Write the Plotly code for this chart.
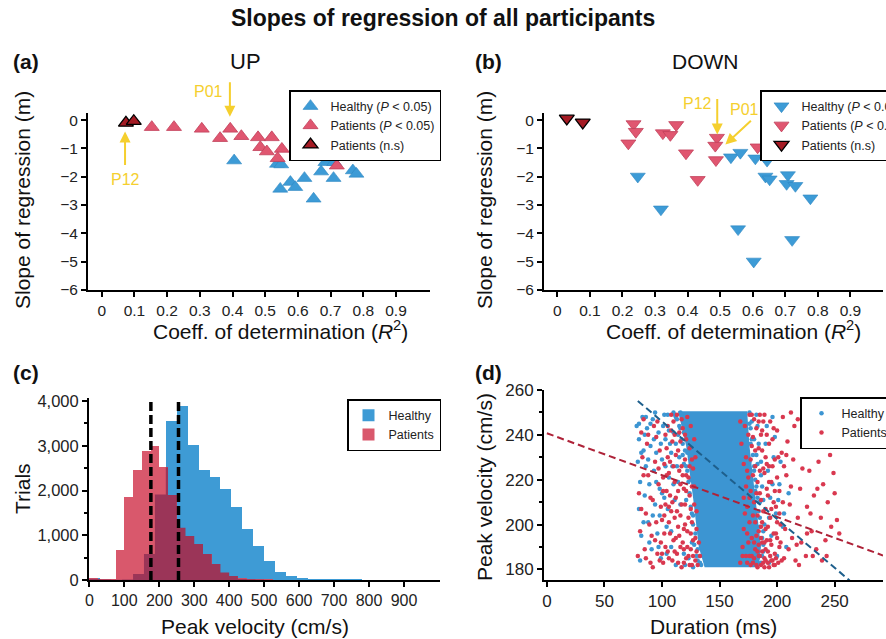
import numpy as np
import plotly.graph_objects as go

FONT = "Arial, Liberation Sans, Helvetica, sans-serif"
BLUE = "#3D9BD6"
PINK = "#E05670"
PINK_EDGE = "#C2405A"
DARKRED = "#A51B24"
HIST_BLUE = "#3E9BD5"
HIST_RED = "#D9586C"
OVERLAP = "#9B3558"
SC_BLUE = "#3C95D2"
SC_RED = "#D9384F"
YELLOW = "#F5CF2E"

# ---------------- (a) UP : R^2 vs slope ----------------
up_healthy_r2 = [0.405, 0.536, 0.549, 0.546, 0.577, 0.592, 0.620, 0.648, 0.671, 0.684, 0.711, 0.709, 0.768, 0.779]
up_healthy_slope = [-1.43, -1.55, -1.57, -2.43, -2.19, -2.37, -2.05, -2.78, -1.82, -1.49, -1.49, -2.05, -1.78, -1.90]
up_patients_r2 = [0.153, 0.221, 0.306, 0.393, 0.362, 0.427, 0.478, 0.520, 0.485, 0.505, 0.551, 0.538, 0.719]
up_patients_slope = [-0.25, -0.25, -0.31, -0.31, -0.64, -0.57, -0.61, -0.61, -0.96, -1.11, -1.02, -1.35, -1.61]
up_ns_r2 = [0.074, 0.098]
up_ns_slope = [-0.10, -0.04]

# ---------------- (b) DOWN ----------------
down_healthy_r2 = [0.247, 0.318, 0.533, 0.562, 0.608, 0.644, 0.639, 0.652, 0.708, 0.704, 0.731, 0.777, 0.555, 0.721, 0.603]
down_healthy_slope = [-1.99, -3.15, -1.31, -1.15, -1.35, -1.43, -1.99, -2.09, -1.94, -2.25, -2.32, -2.76, -3.85, -4.23, -4.99]
down_patients_r2 = [0.234, 0.241, 0.218, 0.324, 0.347, 0.365, 0.395, 0.431, 0.490, 0.485, 0.487, 0.615]
down_patients_slope = [-0.14, -0.41, -0.82, -0.46, -0.52, -0.17, -1.17, -2.11, -0.62, -0.90, -1.41, -0.96]
down_ns_r2 = [0.029, 0.078]
down_ns_slope = [0.06, -0.08]

# ---------------- (c) histogram of peak velocity ----------------
healthy_bin_width = 31.25
healthy_counts = [30, 10, 5, 10, 135, 580, 1910, 3545, 3890, 3030, 2470, 2300, 2040, 1630, 1140, 770,
                  420, 170, 80, 40, 20, 10, 5, 5, 3, 0, 0, 0, 0, 0, 0, 0]
patients_bin_width = 25
patients_counts = [40, 20, 20, 680, 1850, 2470, 2880, 3005, 2520, 1900, 1170, 985, 805, 580, 360, 165,
                   90, 30, 15, 10, 5, 0, 0, 0, 0, 0, 0, 0, 0, 0, 0, 0, 0, 0, 0, 0, 0, 0, 0, 0]
healthy_mean_velocity = 255
patients_mean_velocity = 176
velocity_ticks = [0, 100, 200, 300, 400, 500, 600, 700, 800, 900]

# ---------------- (d) duration vs peak velocity ----------------
healthy_core_duration = [114, 174, 176, 181, 186, 184, 137, 132, 127, 121, 114]
healthy_core_velocity = [250.5, 250.5, 235, 212, 190, 181, 181, 190, 212, 235, 250.5]
healthy_trials = [
    (78, 244), (80, 238), (79, 228), (81, 219), (80, 207), (82, 195), (81, 184), (83, 248), (84, 233), (85, 213),
    (86, 226), (87, 243), (88, 201), (89, 218), (90, 235), (91, 189), (92, 247), (93, 224), (94, 209), (95, 232),
    (96, 196), (97, 241), (98, 216), (99, 185), (100, 229), (101, 244), (102, 212), (103, 238), (104, 199), (105, 249),
    (106, 221), (107, 236), (108, 190), (109, 226), (110, 241), (111, 211), (112, 236), (113, 247), (114, 219), (115, 230),
    (104, 187), (98, 204), (89, 192), (85, 240), (94, 250), (108, 197), (112, 182), (116, 243), (118, 236), (120, 246),
    (120, 182), (123, 185), (127, 181), (131, 184),
    (80, 245), (82, 232), (84, 201), (86, 248), (88, 229), (90, 245), (92, 204), (93, 238), (95, 219), (97, 190),
    (99, 236), (100, 214), (102, 249), (103, 226), (105, 207), (106, 242), (108, 232), (110, 218), (111, 249), (113, 226),
    (114, 240), (116, 209), (117, 249), (119, 227), (121, 211), (122, 232), (124, 245), (125, 220), (127, 204), (128, 236),
    (119, 187), (126, 192), (130, 186), (133, 183),
    (112, 248), (115, 244), (117, 238), (118, 231), (119, 241), (121, 226), (123, 219), (124, 214), (125, 208), (127, 200),
    (129, 196), (128, 191), (131, 189), (133, 186), (134, 182), (110, 250), (116, 250), (120, 233), (122, 224), (126, 205),
    (178, 246), (180, 238), (182, 231), (181, 220), (184, 210), (186, 228), (187, 217), (189, 200), (190, 236), (192, 224),
    (194, 212), (195, 195), (197, 230), (199, 205), (200, 186), (202, 218), (205, 199), (208, 190), (179, 212), (183, 244),
    (185, 203), (188, 188), (193, 183), (196, 248), (176, 228), (177, 200),
    (175, 222), (176, 245), (178, 205), (180, 226), (182, 249), (184, 236), (186, 222), (188, 211), (191, 244), (193, 203),
    (196, 218), (198, 239), (201, 211), (203, 228), (206, 205), (210, 214), (177, 190), (180, 194), (183, 185),
    (176, 250), (177, 243), (178, 238), (179, 231), (180, 224), (182, 217), (183, 212), (184, 206), (185, 199), (187, 194),
    (188, 191), (187, 186), (186, 183), (177, 236), (181, 215), (183, 227), (185, 210), (188, 197),
]
patients_trials = [
    (79, 186), (81, 197), (80, 214), (83, 230), (82, 241), (85, 189), (86, 205), (88, 222), (87, 236), (90, 183),
    (91, 195), (92, 211), (93, 244), (94, 228), (95, 201), (96, 187), (97, 218), (98, 233), (99, 208), (99, 192),
    (84, 247), (89, 200), (95, 239), (92, 181), (97, 225),
    (82, 207), (84, 222), (86, 185), (88, 240), (90, 212), (94, 193), (96, 246), (98, 184),
    (101, 183), (102, 196), (103, 209), (101, 221), (104, 234), (105, 188), (106, 201), (104, 215), (107, 228), (108, 242),
    (109, 184), (110, 193), (108, 206), (111, 219), (112, 231), (110, 246), (113, 187), (114, 199), (112, 212), (115, 224),
    (116, 237), (117, 181), (118, 192), (116, 204), (119, 216), (120, 229), (118, 243), (121, 185), (122, 197), (120, 209),
    (123, 221), (124, 234), (122, 248), (125, 189), (126, 201), (124, 213), (127, 225), (128, 238), (126, 182), (129, 194),
    (130, 206), (128, 217), (103, 190), (106, 223), (109, 237), (111, 203), (114, 183), (117, 226), (119, 198), (121, 238),
    (123, 186), (125, 207), (127, 193), (129, 184), (107, 213), (113, 249), (115, 241), (102, 227), (105, 244), (119, 189),
    (124, 182), (130, 188), (126, 229), (100, 202), (112, 194), (116, 218),
    (100, 187), (102, 204), (104, 222), (106, 185), (107, 196), (109, 210), (110, 226), (111, 188), (113, 206), (114, 215),
    (115, 195), (117, 209), (118, 222), (119, 183), (120, 200), (121, 215), (122, 190), (123, 203), (124, 226), (125, 196),
    (126, 217), (127, 186), (128, 209), (129, 230), (130, 198), (131, 182), (132, 192), (133, 186), (105, 230), (108, 249),
    (111, 240), (114, 233), (117, 247), (120, 240), (103, 240), (101, 215), (106, 208), (116, 190), (121, 222), (125, 244),
    (168, 183), (170, 190), (171, 198), (169, 236), (172, 244), (173, 186), (174, 208), (175, 221), (176, 249), (177, 182),
    (178, 194), (177, 229), (179, 239), (180, 185), (181, 201), (182, 214), (180, 247), (183, 188), (184, 197), (185, 224),
    (184, 234), (186, 182), (187, 192), (188, 206), (187, 242), (189, 185), (190, 198), (191, 216), (190, 230), (192, 188),
    (193, 181), (194, 203), (193, 226), (195, 191), (196, 184), (197, 210), (196, 238), (198, 187), (199, 196), (200, 221),
    (201, 183), (202, 205), (203, 192), (204, 232), (178, 249), (182, 243), (185, 249), (188, 246), (191, 240), (174, 196),
    (176, 212), (179, 204), (183, 219), (186, 211), (189, 223), (192, 213), (195, 219), (198, 229), (171, 227), (173, 217),
    (181, 226), (187, 233), (194, 246), (199, 208), (202, 215), (185, 186), (188, 183), (191, 193), (194, 186), (197, 182),
    (183, 181), (180, 192), (186, 199), (176, 186), (190, 207), (200, 242), (175, 240), (168, 246), (203, 200),
    (172, 205), (173, 230), (175, 192), (176, 201), (177, 215), (178, 186), (179, 222), (180, 210), (181, 233), (182, 195),
    (183, 204), (184, 186), (185, 214), (186, 240), (187, 201), (188, 225), (189, 192), (190, 184), (191, 227), (192, 199),
    (193, 219), (194, 193), (195, 207), (196, 226), (197, 196), (198, 215), (199, 185), (200, 201), (201, 230), (202, 190),
    (204, 184), (205, 210), (206, 226), (182, 182), (184, 191), (187, 188), (190, 189), (192, 183), (195, 184), (198, 182),
    (200, 194), (179, 183), (181, 189), (186, 194), (189, 181), (174, 183), (170, 186), (178, 235), (184, 246), (189, 249),
    (193, 236), (197, 243), (171, 212), (174, 224),
    (206, 185), (207, 198), (208, 222), (209, 237), (210, 189), (211, 209), (213, 194), (214, 229), (215, 244), (216, 184),
    (218, 203), (220, 216), (221, 192), (223, 235), (225, 186), (226, 208), (228, 224), (230, 197), (232, 213), (234, 189),
    (236, 228), (238, 203), (240, 218), (242, 193), (244, 210), (247, 199), (250, 214), (252, 202), (218, 247), (212, 250),
    (227, 241), (231, 186), (246, 231), (205, 248), (239, 184),
    (208, 231), (212, 217), (217, 191), (222, 225), (229, 205), (235, 216), (243, 186), (249, 223), (254, 196), (233, 241),
    (226, 196), (219, 182),
]
healthy_fit = {"intercept": 289.5, "slope": -0.435, "from": 79, "to": 263}
patients_fit = {"intercept": 240.7, "slope": -0.1865, "from": 0, "to": 292}

# ================= figure =================
fig = go.Figure()

tri_common = dict(mode="markers", hoverinfo="skip")
# (a)
fig.add_trace(go.Scatter(x=up_healthy_r2, y=up_healthy_slope, name="Healthy (<i>P</i> &lt; 0.05)",
                         marker=dict(symbol="triangle-up", size=13, color=BLUE, line=dict(width=0.6, color="#2E86C1")),
                         xaxis="x", yaxis="y", legend="legend", **tri_common))
fig.add_trace(go.Scatter(x=up_patients_r2, y=up_patients_slope, name="Patients (<i>P</i> &lt; 0.05)",
                         marker=dict(symbol="triangle-up", size=13, color=PINK, line=dict(width=0.8, color=PINK_EDGE)),
                         xaxis="x", yaxis="y", legend="legend", **tri_common))
fig.add_trace(go.Scatter(x=up_ns_r2, y=up_ns_slope, name="Patients (n.s)",
                         marker=dict(symbol="triangle-up", size=13, color=DARKRED, line=dict(width=1.3, color="black")),
                         xaxis="x", yaxis="y", legend="legend", **tri_common))
# (b)
fig.add_trace(go.Scatter(x=down_healthy_r2, y=down_healthy_slope, name="Healthy (<i>P</i> &lt; 0.05)",
                         marker=dict(symbol="triangle-down", size=13, color=BLUE, line=dict(width=0.6, color="#2E86C1")),
                         xaxis="x2", yaxis="y2", legend="legend2", **tri_common))
fig.add_trace(go.Scatter(x=down_patients_r2, y=down_patients_slope, name="Patients (<i>P</i> &lt; 0.05)",
                         marker=dict(symbol="triangle-down", size=13, color=PINK, line=dict(width=0.8, color=PINK_EDGE)),
                         xaxis="x2", yaxis="y2", legend="legend2", **tri_common))
fig.add_trace(go.Scatter(x=down_ns_r2, y=down_ns_slope, name="Patients (n.s)",
                         marker=dict(symbol="triangle-down", size=13, color=DARKRED, line=dict(width=1.3, color="black")),
                         xaxis="x2", yaxis="y2", legend="legend2", **tri_common))

# (c) histograms
h_edges = np.arange(len(healthy_counts) + 1) * healthy_bin_width
p_edges = np.arange(len(patients_counts) + 1) * patients_bin_width
h_centers = (h_edges[:-1] + h_edges[1:]) / 2
p_centers = (p_edges[:-1] + p_edges[1:]) / 2
fig.add_trace(go.Bar(x=h_centers, y=healthy_counts, width=healthy_bin_width, name="Healthy",
                     marker=dict(color=HIST_BLUE, line=dict(width=0)), xaxis="x3", yaxis="y3",
                     legend="legend3", hoverinfo="skip"))
fig.add_trace(go.Bar(x=p_centers, y=patients_counts, width=patients_bin_width, name="Patients",
                     marker=dict(color=HIST_RED, line=dict(width=0)), xaxis="x3", yaxis="y3",
                     legend="legend3", hoverinfo="skip"))
fine = 6.25
f_edges = np.arange(0, 1000 + fine, fine)
f_cent = (f_edges[:-1] + f_edges[1:]) / 2
h_at = np.array(healthy_counts)[np.minimum((f_cent // healthy_bin_width).astype(int), len(healthy_counts) - 1)]
p_at = np.array(patients_counts)[np.minimum((f_cent // patients_bin_width).astype(int), len(patients_counts) - 1)]
overlap = np.minimum(h_at, p_at)
fig.add_trace(go.Scatter(x=f_edges, y=np.append(overlap, overlap[-1]), mode="lines", line=dict(shape="hv", width=0, color=OVERLAP),
                         fill="tozeroy", fillcolor=OVERLAP, showlegend=False, xaxis="x3", yaxis="y3", hoverinfo="skip"))
for v in (patients_mean_velocity, healthy_mean_velocity):
    fig.add_trace(go.Scatter(x=[v, v], y=[0, 4070], mode="lines", line=dict(color="black", width=3.5, dash="9px,4px"),
                             showlegend=False, xaxis="x3", yaxis="y3", hoverinfo="skip"))

# (d) scatter
fig.add_trace(go.Scatter(x=healthy_core_duration, y=healthy_core_velocity, mode="lines", fill="toself",
                         fillcolor=SC_BLUE, line=dict(width=0, color=SC_BLUE), showlegend=False,
                         xaxis="x4", yaxis="y4", hoverinfo="skip"))
fig.add_trace(go.Scatter(x=[p[0] for p in healthy_trials], y=[p[1] for p in healthy_trials], mode="markers",
                         name="Healthy", marker=dict(size=4.5, color=SC_BLUE), xaxis="x4", yaxis="y4",
                         legend="legend4", hoverinfo="skip"))
fig.add_trace(go.Scatter(x=[p[0] for p in patients_trials], y=[p[1] for p in patients_trials], mode="markers",
                         name="Patients", marker=dict(size=4.5, color=SC_RED), xaxis="x4", yaxis="y4",
                         legend="legend4", hoverinfo="skip"))
for fit, col in ((patients_fit, "#AE2238"), (healthy_fit, "#1E5F8C")):
    xs = np.array([fit["from"], fit["to"]], dtype=float)
    fig.add_trace(go.Scatter(x=xs, y=fit["intercept"] + fit["slope"] * xs, mode="lines",
                             line=dict(color=col, width=2, dash="7px,4px"), showlegend=False,
                             xaxis="x4", yaxis="y4", hoverinfo="skip"))

W, H = 886, 639
def px_x(v): return v / W
def px_y(v): return 1 - v / H

def tf(size):
    return dict(size=size, color="#222", family=FONT)

axis_base = dict(showline=True, linecolor="black", linewidth=2, ticks="outside", ticklen=5, tickwidth=1.8,
                 tickcolor="black", showgrid=False, zeroline=False, tickfont=tf(15.5))

r2_ticks = [i / 10 for i in range(10)]
r2_text = ["0"] + [f"{t:.1f}" for t in r2_ticks[1:]]
fig.update_layout(
    xaxis=dict(axis_base, domain=[px_x(88), px_x(430)], anchor="y", range=[-0.042, 1.004],
               tickmode="array", tickvals=r2_ticks, ticktext=r2_text),
    yaxis=dict(axis_base, domain=[px_y(290), px_y(113)], anchor="x", range=[-6, 0.25], dtick=1, tick0=0),
    xaxis2=dict(axis_base, domain=[px_x(544), px_x(883)], anchor="y2", range=[-0.041, 1.0],
                tickmode="array", tickvals=r2_ticks, ticktext=r2_text),
    yaxis2=dict(axis_base, domain=[px_y(290), px_y(113)], anchor="x2", range=[-6, 0.25], dtick=1, tick0=0),
    xaxis3=dict(axis_base, domain=[px_x(89), px_x(440)], anchor="y3", range=[-1, 1003],
                tickmode="array", tickvals=velocity_ticks, tickfont=tf(16)),
    yaxis3=dict(axis_base, domain=[px_y(580), px_y(398)], anchor="x3", range=[0, 4070], dtick=1000, tick0=0,
                tickformat=",", tickfont=tf(16.5),
                minor=dict(ticks="outside", ticklen=3, tickwidth=1.5, tickcolor="black", dtick=500, showgrid=False)),
    xaxis4=dict(axis_base, domain=[px_x(544), px_x(883)], anchor="y4", range=[-2.5, 292], dtick=50, tick0=0,
                tickfont=tf(17)),
    yaxis4=dict(axis_base, domain=[px_y(580), px_y(390)], anchor="x4", range=[175.3, 260], dtick=20, tick0=180,
                tickfont=tf(17),
                minor=dict(ticks="outside", ticklen=3, tickwidth=1.5, tickcolor="black", dtick=10, showgrid=False)),
    barmode="overlay", bargap=0,
    width=W, height=H, margin=dict(l=0, r=0, t=0, b=0, autoexpand=False),
    paper_bgcolor="white", plot_bgcolor="white",
    font=dict(family=FONT, color="#222"),
)

leg_base = dict(bgcolor="white", bordercolor="black", borderwidth=1.5, font=dict(size=12.5, family=FONT, color="#222"),
                xanchor="left", yanchor="top", tracegroupgap=0, itemwidth=30)
fig.update_layout(
    legend=dict(leg_base, x=px_x(289), y=px_y(90)),
    legend2=dict(leg_base, x=px_x(760), y=px_y(90)),
    legend3=dict(leg_base, x=px_x(347), y=px_y(399)),
    legend4=dict(leg_base, x=px_x(800), y=px_y(397)),
)

ann = []
def text(x, y, s, size=17, bold=False, angle=0, color="#111"):
    ann.append(dict(x=px_x(x), y=px_y(y), xref="paper", yref="paper", text=f"<b>{s}</b>" if bold else s,
                    showarrow=False, textangle=angle, xanchor="center", yanchor="middle",
                    font=dict(size=size, family=FONT, color=color)))

text(443, 18, "Slopes of regression of all participants", size=23, bold=True)
text(26, 62, "(a)", size=21, bold=True)
text(488, 62, "(b)", size=21, bold=True)
text(26, 372, "(c)", size=21, bold=True)
text(488, 372, "(d)", size=21, bold=True)
text(245, 62, "UP", size=22)
text(705, 62, "DOWN", size=21)
text(22, 200, "Slope of regression (m)", size=21, angle=-90)
text(484, 200, "Slope of regression (m)", size=21, angle=-90)
text(280, 330, "Coeff. of determination (<i>R</i><sup>2</sup>)", size=21)
text(733, 330, "Coeff. of determination (<i>R</i><sup>2</sup>)", size=21)
text(22, 489, "Trials", size=21, angle=-90)
text(255, 626, "Peak velocity (cm/s)", size=21)
text(484, 487, "Peak velocity (cm/s)", size=21, angle=-90)
text(713, 626, "Duration (ms)", size=21)
# yellow labels
text(208, 92, "P01", size=16, color=YELLOW)
text(125, 179, "P12", size=16, color=YELLOW)
text(697, 103, "P12", size=16, color=YELLOW)
text(744, 109, "P01", size=16, color=YELLOW)

def arrow(xr, yr, x, y, ax, ay):
    ann.append(dict(x=x, y=y, xref=xr, yref=yr, ax=ax, ay=ay, axref="pixel", ayref="pixel", text="",
                    showarrow=True, arrowhead=2, arrowsize=1.1, arrowwidth=2, arrowcolor=YELLOW, standoff=0))

arrow("x", "y", 0.392, 0.12, 0, -36)
arrow("x", "y", 0.0713, -0.40, 0, 35)
arrow("x2", "y2", 0.491, -0.505, 0, -37)
arrow("x2", "y2", 0.516, -0.86, 27, -25)
fig.update_layout(annotations=ann)

fig.write_html("out.html", config={"displayModeBar": False},
               post_script="document.body.style.margin='0';")
